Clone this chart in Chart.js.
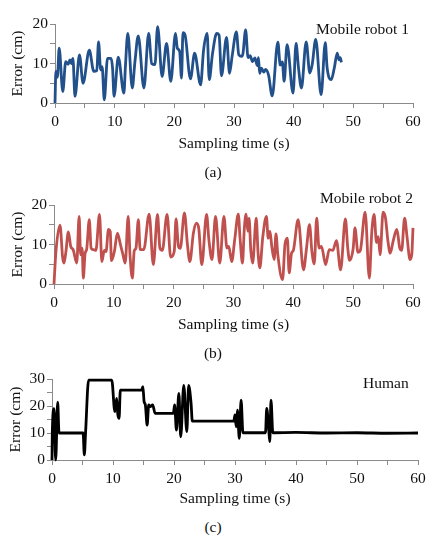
<!DOCTYPE html>
<html>
<head>
<meta charset="utf-8">
<script src="https://cdn.jsdelivr.net/npm/chart.js@4.4.1/dist/chart.umd.min.js"></script>
<style>
  html, body { margin: 0; padding: 0; background: #fff; }
  body { width: 426px; height: 538px; position: relative; overflow: hidden; font-family: "Liberation Serif", "Times New Roman", serif; }
  canvas { position: absolute; left: 0; }
  .lbl { position: absolute; font-size: 15.5px; line-height: 16px; color: #111; white-space: nowrap; }
  .cap { position: absolute; width: 426px; text-align: center; left: 0; font-size: 15.5px; line-height: 16px; color: #111; }
</style>
</head>
<body>
<canvas id="c1" width="426" height="155" style="top:0px"></canvas>
<canvas id="c2" width="426" height="155" style="top:181px"></canvas>
<canvas id="c3" width="426" height="155" style="top:355px"></canvas>
<div class="lbl" style="left:316px; top:21px">Mobile robot 1</div>
<div class="lbl" style="left:320px; top:190px">Mobile robot 2</div>
<div class="lbl" style="left:363px; top:375px">Human</div>
<div class="cap" style="top:164px; left:0px">(a)</div>
<div class="cap" style="top:345px; left:0px">(b)</div>
<div class="cap" style="top:519px; left:0px">(c)</div>
<script>
// ---- data ----
const xTicks = [0, 10, 20, 30, 40, 50, 60];
const yTicksRobot = [0, 10, 20];
const yTicksHuman = [0, 10, 20, 30];

const robot1Time = [0,0.15,0.4,0.7,1.3,1.8,2.2,2.5,2.75,3.0,3.35,4.1,4.7,5.75,6.5,7.0,7.3,7.65,7.9,8.26,8.8,9.4,9.65,9.9,10.6,11.55,11.8,12.2,12.95,13.4,13.95,14.9,15.7,16.2,16.75,17.2,17.95,18.7,19.4,20.2,20.5,20.9,21.2,21.45,21.8,22.7,23.4,24.4,24.9,25.5,25.85,26.4,27.1,27.5,27.9,28.75,29.25,29.7,30.4,30.8,31.3,31.5,31.95,32.35,32.7,33.1,33.5,33.9,34.1,34.3,34.6,35.0,35.3,35.8,36.4,37.35,37.75,38.1,38.4,38.9,39.9,40.4,40.8,41.3,42.1,42.7,43.1,43.7,44.6,45.3,45.6,46.3,46.8,47.3,47.6,47.8,48.0];
const robot1Error = [0,8,6.5,13.9,2.9,10.5,9.8,10.9,10,11.3,1.7,12.2,5,13.4,8,8.2,15.5,8.4,9.2,0.8,11.3,11.3,8.8,1.7,11.6,2.5,9.2,17.6,3.8,10.5,17,3.8,17.6,10,9.7,19.3,6.7,15.1,5.5,17.6,13.9,13,6.3,17.8,17.2,6.1,12.6,4.6,13.4,17.6,5.9,12.5,17.6,17.2,6.9,16.6,7.5,12,18,12.2,11.8,12.5,18.5,11.5,12,10.5,11.4,9.5,11.5,7.5,8.8,7.8,8.5,7,1.8,15.4,9.6,10.4,5.5,14.8,2.5,15.1,9,3.8,15.5,7.6,9.7,16.1,2.1,15.3,9,5.9,8.8,12.6,10.9,11.5,10.3];

const robot2Time = [0,0.33,1.0,1.45,1.67,2.0,2.4,2.8,3.2,3.8,4.2,4.45,4.7,4.9,5.2,5.45,5.9,6.2,6.6,7.0,7.6,8.0,8.4,8.7,9.1,9.4,9.6,10.1,10.6,11.1,11.5,11.9,12.4,12.7,13.1,13.4,13.7,14.1,14.4,15.0,15.9,16.6,17.3,17.7,18.1,18.9,19.5,20.1,20.4,20.8,21.1,21.8,22.3,22.7,23.3,23.8,24.2,24.7,25.5,25.9,26.4,27.0,27.7,28.4,28.9,29.2,29.7,30.2,30.8,31.1,31.5,31.8,32.1,32.4,32.6,32.9,33.2,33.8,34.1,34.4,34.9,35.5,35.8,36.1,36.4,36.8,37.1,37.4,38.2,38.6,39.0,39.3,39.7,40.0,40.8,41.7,42.2,42.7,43.1,43.5,43.9,44.3,44.7,45.4,46.0,46.6,47.2,47.9,48.7,49.1,49.4,50.0,50.3,50.8,51.2,52.0,52.7,53.1,53.5,53.9,54.2,54.5,55.0,55.4,55.8,56.2,56.7,57.3,57.8,58.1,58.6,59.0,59.5,59.8,60.0];
const robot2Error = [0,8.3,14.9,6.6,5.3,8.3,13.2,9.5,8.7,5.3,17.1,7.4,9.1,1.5,7.8,8.7,16.3,9.1,8.7,8.5,17.6,5.7,8.5,8.2,13.8,13.3,5.9,8.3,12.9,10,7.6,5.3,17.1,7.4,1.5,8.3,9.1,16.3,8.7,8.7,17.7,4.9,17.6,9.1,8.5,17.6,6.8,8.3,16.5,9.5,9,18,10,5.7,12.9,15.4,14,4.9,17.6,11,6.2,17.1,5.3,17.1,9.1,9.5,5.7,11.2,17.7,11.5,5.3,13.8,17.7,13.3,16.7,8.3,5.3,16.7,8,4.1,12,17.1,11.6,13.3,9.5,6.2,12.7,7.5,1.1,10,11.6,2.8,7.8,8.5,16.3,3.6,9,15,8.3,5.1,16.7,9.1,9.5,4.9,8.7,8.5,11,3.6,16.5,9,6,9,14.2,8,8.5,18.2,1.5,12.9,17.6,10.5,12,7.4,18.2,16.7,11,7.8,11,13.8,9,8.5,16.7,12,6.2,7.5,14.2];

const humanTime = [0,0.05,0.33,0.6,0.93,1.15,5.1,5.3,5.5,6.0,9.8,10.3,10.6,10.8,11.0,11.2,14.7,14.9,15.1,15.3,15.6,15.85,16.1,16.5,16.9,19.9,20.1,20.4,20.8,21.1,21.6,22.1,22.4,22.8,23.0,29.8,30.0,30.2,30.4,30.7,31.0,31.3,35.0,35.2,35.5,35.7,35.9,36.2,40,45,50,55,60];
const humanError = [0,10,19,0,21.4,10,10,1.9,10,29.6,29.6,17.9,22.8,16.7,15.4,25.9,25.9,27.2,21.6,20.5,12.9,20.4,19.8,20.4,17.3,17.3,20.4,11.1,24.7,8.6,27.6,10.5,27.6,21,14.4,14.4,16.7,12.3,18.5,8,22.2,10.1,10.1,19.1,12.3,6.8,22.2,10.1,10.2,10,10.1,9.9,10];

// ---- chart factory ----
const FONT = { family: "'Liberation Serif', 'Times New Roman', serif", size: 15.5 };
const AXIS = '#8a8a8a';

function pts(xs, ys) { return xs.map((x, i) => ({ x: x, y: ys[i] })); }

function makeChart(id, xs, ys, color, yMax, yLabels, geom) {
  const ctx = document.getElementById(id).getContext('2d');
  return new Chart(ctx, {
    type: 'line',
    data: { datasets: [{
      data: pts(xs, ys),
      borderColor: color,
      borderWidth: 2.8,
      pointRadius: 0,
      cubicInterpolationMode: 'monotone',
      fill: false,
      clip: false
    }]},
    options: {
      responsive: false,
      animation: false,
      devicePixelRatio: 1,
      layout: { padding: { top: geom.top, right: geom.right, left: 0, bottom: 0 } },
      plugins: { legend: { display: false }, tooltip: { enabled: false } },
      scales: {
        x: {
          type: 'linear', min: 0, max: 60,
          afterBuildTicks: s => { s.ticks = []; for (let v = 0; v <= 60; v += 5) s.ticks.push({ value: v }); },
          ticks: { autoSkip: false, maxRotation: 0, padding: 5, color: '#111', font: FONT,
                   callback: v => xTicks.includes(v) ? String(v) : '' },
          grid: { drawOnChartArea: false, drawTicks: true, tickLength: 5, color: AXIS, lineWidth: 1 },
          border: { display: true, color: AXIS, width: 1 },
          title: { display: true, text: 'Sampling time (s)', color: '#111', font: FONT, padding: { top: 0, bottom: geom.xTitlePad } },
          afterFit: s => { s.height = geom.xh; s.paddingLeft = 0; s.paddingRight = 0; }
        },
        y: {
          min: 0, max: yMax,
          afterBuildTicks: s => { s.ticks = []; for (let v = 0; v <= yMax; v += 5) s.ticks.push({ value: v }); },
          ticks: { autoSkip: false, padding: 2, color: '#111', font: FONT,
                   callback: v => yLabels.includes(v) ? String(v) : '' },
          grid: { drawOnChartArea: false, drawTicks: true, tickLength: 5, color: AXIS, lineWidth: 1 },
          border: { display: true, color: AXIS, width: 1 },
          title: { display: true, text: 'Error (cm)', color: '#111', font: FONT, padding: { top: geom.yTitlePad, bottom: 0 } },
          afterFit: s => { s.width = geom.yw; s.paddingTop = 0; s.paddingBottom = 0; }
        }
      }
    }
  });
}

makeChart('c1', robot1Time, robot1Error, '#22508a', 20, yTicksRobot,
  { top: 24, right: 13, xh: 52, yw: 55, xTitlePad: 2, yTitlePad: 9 });
makeChart('c2', robot2Time, robot2Error, '#c0504d', 20, yTicksRobot,
  { top: 24, right: 13, xh: 52, yw: 54, xTitlePad: 2, yTitlePad: 9 });
makeChart('c3', humanTime, humanError, '#000000', 30, yTicksHuman,
  { top: 24, right: 8, xh: 50, yw: 52, xTitlePad: 2, yTitlePad: 7 });
</script>
</body>
</html>
